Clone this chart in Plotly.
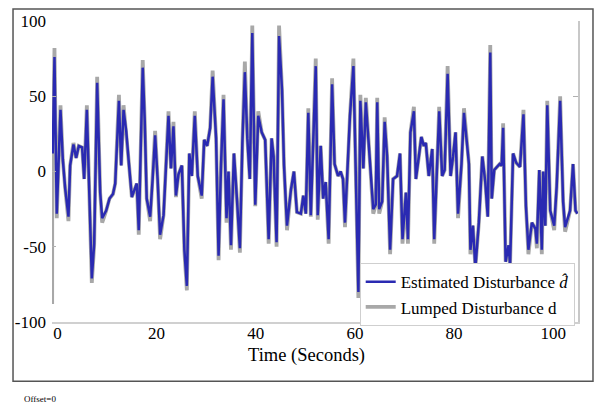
import plotly.graph_objects as go

time_s = [
    -1.07, -1.05, -0.95, -0.6, -0.14, 0.61, 1.08, 1.55, 2.22, 2.56,
    3.23, 3.77, 4.3, 4.98, 5.39, 5.93, 6.46, 6.93, 7.41, 8.01,
    8.62, 9.02, 9.83, 10.5, 11.2, 11.65, 12.4, 12.86, 13.33, 13.87,
    14.34, 15.0, 16.0, 16.4, 17.2, 17.6, 18.0, 18.7, 19.2, 19.7,
    20.2, 20.7, 21.4, 21.9, 22.4, 22.9, 23.4, 23.9, 24.4, 25.1,
    25.6, 26.1, 26.6, 27.1, 27.7, 28.3, 29.1, 29.6, 30.2, 30.8,
    31.3, 32.0, 32.5, 33.0, 33.5, 34.1, 34.5, 35.0, 35.6, 36.2,
    36.8, 37.3, 37.8, 38.3, 38.8, 39.3, 39.9, 40.5, 41.2, 41.9,
    42.6, 43.2, 43.6, 44.2, 44.7, 45.3, 45.7, 46.3, 47.1, 47.7,
    48.3, 49.1, 49.6, 50.1, 50.6, 51.1, 51.6, 52.1, 52.5, 53.1,
    53.6, 54.1, 54.7, 55.4, 55.9, 56.6, 57.1, 57.6, 58.0, 58.4,
    59.0, 59.7, 60.1, 60.7, 61.1, 61.7, 62.2, 62.7, 63.2, 63.7,
    64.2, 64.5, 64.9, 65.5, 66.0, 66.5, 67.1, 67.7, 68.5, 69.1,
    69.6, 70.3, 70.7, 71.2, 71.9, 72.3, 72.9, 73.4, 73.9, 74.3,
    74.9, 75.6, 76.0, 76.6, 77.0, 77.6, 78.1, 78.7, 79.3, 79.8,
    80.3, 80.8, 81.5, 82.0, 82.4, 83.0, 83.3, 83.8, 84.3, 85.0,
    85.7, 86.3, 86.8, 87.3, 87.6, 88.1, 89.2, 89.6, 89.9, 90.4,
    91.0, 91.3, 91.9, 92.5, 93.3, 94.0, 94.5, 95.0, 95.7, 96.4,
    96.7, 97.2, 97.7, 98.0, 98.4, 98.8, 99.4, 100.2, 100.7, 101.4,
    102.0, 102.4, 103.4, 104.0, 104.5, 104.9,
]

lumped_d = [
    -88, 28, 12, 82, -31, 44, 8, -11, -33, 4,
    19, 9, 17, 16, -5, 44, -15, -74, -49, 63,
    -14, -34, -26, -18, -15, -8, 51, 4, 44, 27,
    8, -17, -8, -42, 74, 34, -18, -33, -5, 27,
    -5, -45, -29, 0, 40, 2, 33, -17, -2, 4,
    -53, -79, 12, -3, 40, -3, -18, 21, 17, 29,
    67, 22, -59, 5, 51, -34, 0, -52, 12, -18,
    -54, 19, 73, 22, -5, 97, -23, 40, 26, 21,
    -48, 22, 10, -50, 97, 54, 4, -39, -12, 0,
    -27, -28, -16, -28, 42, -30, 19, 75, -32, 17,
    -18, -7, -48, 62, 5, -3, 0, -5, -37, -3,
    37, 75, 12, -84, 51, 2, 49, 24, 0, -28,
    -22, 49, -28, -20, 36, 10, -55, -5, -3, 12,
    -48, -14, -48, 26, 43, -5, 10, 23, 17, 19,
    -3, 15, -48, 10, 43, -3, 1, 70, -3, 10,
    26, -31, 5, 42, 26, 5, -55, -36, -64, -34,
    10, -7, -30, 84, -18, 1, 5, 4, 32, -60,
    -49, -62, 12, 6, 3, 41, -23, -55, -34, -38,
    -51, 1, -55, 0, -36, 47, -26, -39, -10, 50,
    -20, -40, -26, 5, -26, -28,
]

estimated_dhat = [
    28, 28, 12, 76, -28, 41, 8, -11, -30, 4,
    18, 9, 17, 16, -5, 41, -15, -71, -48, 59,
    -14, -31, -26, -18, -15, -8, 47, 4, 41, 27,
    8, -17, -8, -39, 69, 34, -18, -30, -5, 24,
    -5, -42, -29, 0, 37, 2, 30, -16, -2, 4,
    -52, -76, 12, -3, 37, -3, -16, 21, 17, 29,
    63, 22, -56, 5, 48, -31, 0, -49, 12, -18,
    -51, 19, 66, 22, -5, 92, -22, 37, 26, 21,
    -45, 22, 10, -47, 90, 54, 4, -36, -12, 0,
    -27, -28, -16, -28, 39, -29, 19, 70, -29, 17,
    -18, -7, -45, 58, 5, -3, 0, -5, -34, -3,
    37, 70, 12, -80, 47, 2, 46, 24, 0, -25,
    -22, 46, -25, -20, 33, 10, -52, -5, -3, 12,
    -45, -14, -45, 26, 40, -5, 10, 23, 17, 19,
    -3, 15, -45, 10, 40, -3, 1, 65, -3, 10,
    26, -28, 5, 39, 26, 5, -52, -36, -64, -34,
    10, -7, -30, 79, -18, 1, 5, 4, 29, -60,
    -49, -62, 12, 6, 3, 38, -23, -52, -34, -38,
    -48, 1, -52, 0, -36, 44, -26, -36, -10, 47,
    -20, -37, -26, 5, -26, -28,
]

x_ticks = [0, 20, 40, 60, 80, 100]
y_ticks = [-100, -50, 0, 50, 100]
y_tick_text = ["-100", "-50", "0", "50", "100"]

SERIF = "Liberation Serif"

fig = go.Figure()
fig.add_trace(go.Scatter(
    x=time_s, y=lumped_d, mode="lines", name="Lumped Disturbance d",
    line=dict(color="#a8a8a8", width=3.8),
))
fig.add_trace(go.Scatter(
    x=time_s, y=estimated_dhat, mode="lines",
    name="Estimated Disturbance <i>d̂</i>",
    line=dict(color="#2a2ab2", width=2.5),
))

fig.update_layout(
    width=597, height=409,
    margin=dict(l=52, r=19, t=17, b=87),
    paper_bgcolor="white", plot_bgcolor="white",
    font=dict(family=SERIF, size=17, color="black"),
    showlegend=True,
    legend=dict(
        x=0.585, y=0.195, xanchor="left", yanchor="top",
        bgcolor="white", bordercolor="#cfcfcf", borderwidth=1,
        traceorder="reversed", font=dict(family=SERIF, size=17, color="black"),
        itemwidth=30, tracegroupgap=0,
    ),
    xaxis=dict(
        range=[-1.1, 105], tickvals=x_ticks, showgrid=False, zeroline=False,
        showline=True, linecolor="#d0d0d0", linewidth=1.5, ticks="",
        ticklabelstandoff=-5,
        tickfont=dict(family=SERIF, size=17, color="black"),
    ),
    yaxis=dict(
        range=[-100, 100], tickvals=y_ticks, ticktext=y_tick_text,
        showgrid=False, zeroline=False, showline=False,
        ticks="inside", ticklen=4, tickcolor="#b0b0b0",
        ticklabelstandoff=5,
        tickfont=dict(family=SERIF, size=17, color="black"),
    ),
    yaxis2=dict(
        range=[-100, 100], overlaying="y", side="right", showgrid=False,
        zeroline=False, showline=True, linecolor="#c8c8c8", linewidth=1.5,
        ticks="inside", ticklen=5, tickcolor="#b0b0b0", tickvals=[50, 100],
        showticklabels=False,
    ),
    shapes=[dict(
        type="rect", xref="paper", yref="paper",
        x0=-0.0741, x1=1.0285, y0=-0.1967, y1=1.04,
        line=dict(color="#555555", width=1.5), fillcolor="rgba(0,0,0,0)",
        layer="above",
    )],
    annotations=[
        dict(text="Time (Seconds)", xref="paper", yref="paper", x=0.483, y=-0.11,
             xanchor="center", yanchor="middle", showarrow=False,
             font=dict(family=SERIF, size=18.5, color="black")),
        dict(text="Offset=0", xref="paper", yref="paper", x=-0.057, y=-0.256,
             xanchor="left", yanchor="middle", showarrow=False,
             font=dict(family=SERIF, size=9, color="black")),
    ],
)

fig.add_trace(go.Scatter(x=[None], y=[None], yaxis="y2", showlegend=False,
                         hoverinfo="skip"))

fig.write_html(
    "out.html",
    config={"displayModeBar": False},
    post_script="document.body.style.margin='0';document.body.style.overflow='hidden';",
)
